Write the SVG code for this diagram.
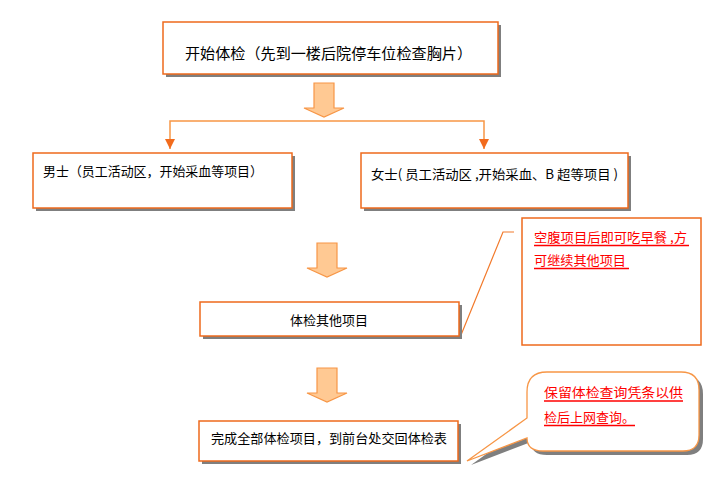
<svg xmlns="http://www.w3.org/2000/svg" width="718" height="489" viewBox="0 0 718 489">
<style>
.box{fill:#fff;stroke:#EE6A1C;stroke-width:1.5}
.sh{fill:#7f7f7f}
.t{font-family:"Noto Sans CJK SC","Liberation Sans",sans-serif;font-size:13px;fill:#000}
.r{fill:#FF0000}
.ul{stroke:#FF0000;stroke-width:1.3}
.blk{fill:#FFC993;stroke:#F79646;stroke-width:1.2}
.ln{fill:none;stroke:#F79646;stroke-width:1.5}
.cl{fill:none;stroke:#F27A2C;stroke-width:1.2}
</style>
<defs>
<marker id="ah" viewBox="0 0 10 10" refX="10" refY="5" markerWidth="10" markerHeight="10" markerUnits="userSpaceOnUse" orient="auto">
<path d="M0,0 L10,5 L0,10 Z" fill="#F26B1D"/>
</marker>
<symbol id="barrow" overflow="visible">
<path class="blk" d="M9,0 H29 V25 H39 L19,34 L-1,25 H9 Z"/>
</symbol>
</defs>
<rect width="718" height="489" fill="#fff"/>

<g id="connectors">
<use href="#barrow" x="305" y="83"/>
<path class="ln" d="M170,140 V121 H484 V140"/>
<path d="M170,139 L170,149" stroke="#F79646" stroke-width="1.5" fill="none" marker-end="url(#ah)"/>
<path d="M484,139 L484,149" stroke="#F79646" stroke-width="1.5" fill="none" marker-end="url(#ah)"/>
<use href="#barrow" x="308" y="243"/>
<use href="#barrow" x="308" y="368"/>
<path class="cl" d="M461,335 L503,232 H514"/>
</g>

<g id="node-start">
<rect class="sh" x="166" y="25" width="335" height="52"/>
<rect class="box" x="163" y="22" width="335" height="52"/>
<text class="t" x="185" y="59" style="font-size:15px" textLength="287" lengthAdjust="spacingAndGlyphs">开始体检（先到一楼后院停车位检查胸片）</text>
</g>

<g id="node-male">
<rect class="sh" x="36" y="156" width="259" height="55"/>
<rect class="box" x="33" y="153" width="259" height="55"/>
<text class="t" x="43" y="176" textLength="220" lengthAdjust="spacingAndGlyphs">男士（员工活动区，开始采血等项目）</text>
</g>

<g id="node-female">
<rect class="sh" x="364" y="156" width="267" height="55"/>
<rect class="box" x="361" y="153" width="267" height="55"/>
<text class="t" x="371" y="179" textLength="247" lengthAdjust="spacingAndGlyphs">女士( 员工活动区 ,开始采血、B 超等项目 )</text>
</g>

<g id="node-note">
<rect class="box" x="522" y="218" width="179" height="127"/>
<text class="t r" x="534" y="242" textLength="153" lengthAdjust="spacingAndGlyphs">空腹项目后即可吃早餐 ,方</text>
<line class="ul" x1="534" y1="245.5" x2="689" y2="245.5"/>
<text class="t r" x="534" y="265" textLength="92" lengthAdjust="spacingAndGlyphs">可继续其他项目</text>
<line class="ul" x1="534" y1="268.5" x2="629" y2="268.5"/>
</g>

<g id="node-other">
<rect class="sh" x="203" y="305" width="259" height="34"/>
<rect class="box" x="200" y="302" width="259" height="34"/>
<text class="t" x="290" y="325" textLength="78" lengthAdjust="spacingAndGlyphs">体检其他项目</text>
</g>

<g id="node-finish">
<rect class="sh" x="202" y="424" width="259" height="40"/>
<rect class="box" x="199" y="421" width="259" height="40"/>
<text class="t" x="211" y="443" textLength="236" lengthAdjust="spacingAndGlyphs">完成全部体检项目，到前台处交回体检表</text>
</g>

<g id="node-callout">
<path class="sh" transform="translate(4,4)" d="M547,372 H681 Q699,372 699,390 V435 Q699,451 683,451 H543 Q527,451 527,438 L467,461 L527,418 V392 Q527,372 547,372 Z"/>
<path d="M547,372 H681 Q699,372 699,390 V435 Q699,451 683,451 H543 Q527,451 527,438 L467,461 L527,418 V392 Q527,372 547,372 Z" fill="#fff" stroke="#F79646" stroke-width="1.3"/>
<text class="t r" x="544" y="397" textLength="139" lengthAdjust="spacingAndGlyphs">保留体检查询凭条以供</text>
<line class="ul" x1="544" y1="401" x2="683" y2="401"/>
<text class="t r" x="544" y="422">检后上网查询。</text>
<line class="ul" x1="544" y1="425.5" x2="635" y2="425.5"/>
</g>
</svg>
